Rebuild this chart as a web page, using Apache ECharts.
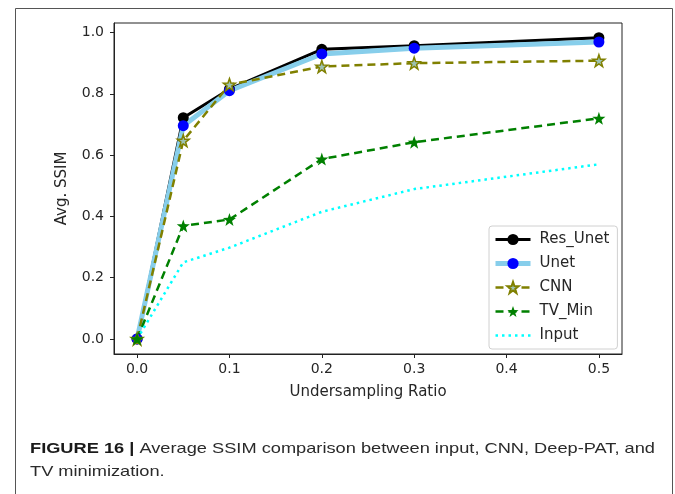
<!DOCTYPE html>
<html>
<head>
<meta charset="utf-8">
<script src="https://cdn.jsdelivr.net/npm/echarts@6/dist/echarts.min.js"></script>
<style>
html, body { margin: 0; padding: 0; background: #fff; }
#main { width: 675px; height: 494px; }
</style>
</head>
<body>
<div id="main"></div>
<script>
// undersampling ratios (x)
var ratios = [0.0, 0.05, 0.1, 0.2, 0.3, 0.5];
// avg SSIM per method
var resUnet = [0.0, 0.722, 0.815, 0.945, 0.957, 0.983];
var unet = [0.0, 0.696, 0.810, 0.930, 0.949, 0.969];
var cnn = [0.0, 0.647, 0.830, 0.889, 0.900, 0.908];
var tvMin = [0.0, 0.369, 0.390, 0.587, 0.642, 0.720];
var input = [0.0, 0.250, 0.298, 0.415, 0.489, 0.570];
// tick labels
var xTicks = [0.0, 0.1, 0.2, 0.3, 0.4, 0.5];
var yTicks = [0.0, 0.2, 0.4, 0.6, 0.8, 1.0];

var font = 'DejaVu Sans';
var capFont = 'Liberation Sans';
var myChart = echarts.init(document.getElementById('main'), null, { renderer: 'canvas' });

function pairs(ys) {
	var out = [];
	for (var i = 0; i < ratios.length; i++) {
		out.push([ratios[i], ys[i]]);
	}
	return out;
}

var starPath = 'path://M0,-10 L2.35,-3.24 L9.51,-3.09 L3.8,1.24 L5.88,8.09 L0,4 L-5.88,8.09 L-3.8,1.24 L-9.51,-3.09 L-2.35,-3.24 Z';

/*caption: printed font is wider than Liberation Sans, so stretch it to the same width*/
var capBold = 'FIGURE 16 |';
var capRest = ' Average SSIM comparison between input, CNN, Deep-PAT, and';
var capLine2 = 'TV minimization.';
function captionGraphics() {
	var ctx = document.createElement('canvas').getContext('2d');
	ctx.font = 'bold 15px "' + capFont + '"';
	var w = ctx.measureText(capBold).width;
	ctx.font = '15px "' + capFont + '"';
	w += ctx.measureText(capRest).width;
	var s = (655 - 30) / w;
	return [{
		type: 'text',
		silent: true,
		x: 30,
		y: 449,
		scaleX: s,
		style: {
			text: '{b|' + capBold + '}{n|' + capRest + '}',
			verticalAlign: 'middle',
			rich: {
				b: { fontFamily: capFont, fontWeight: 'bold', fontSize: 15, fill: '#1a1a1a' },
				n: { fontFamily: capFont, fontSize: 15, fill: '#2a2a2a' }
			}
		}
	}, {
		type: 'text',
		silent: true,
		x: 30,
		y: 472,
		scaleX: s,
		style: { text: capLine2, font: '15px "' + capFont + '"', fill: '#2a2a2a', verticalAlign: 'middle' }
	}];
}

var option = {
	animation: false,
	backgroundColor: '#fff',
	grid: {
		left: 114,
		right: 53,
		top: 23,
		bottom: 140,
		show: true,
		borderColor: '#222',
		borderWidth: 1
	},
	xAxis: {
		type: 'value',
		min: -0.025,
		max: 0.525,
		name: 'Undersampling Ratio',
		nameLocation: 'middle',
		nameGap: 31,
		nameTextStyle: { fontFamily: font, fontSize: 15, color: '#262626' },
		splitLine: { show: false },
		axisLine: { show: true, onZero: false, lineStyle: { color: '#222' } },
		axisTick: { show: true, length: 4, customValues: xTicks, lineStyle: { color: '#222' } },
		axisLabel: {
			customValues: xTicks,
			margin: 8,
			fontFamily: font,
			fontSize: 14,
			color: '#262626',
			formatter: function(v) { return v.toFixed(1); }
		}
	},
	yAxis: {
		type: 'value',
		min: -0.049,
		max: 1.031,
		name: 'Avg. SSIM',
		nameLocation: 'middle',
		nameGap: 44,
		nameTextStyle: { fontFamily: font, fontSize: 15, color: '#262626' },
		splitLine: { show: false },
		axisLine: { show: true, onZero: false, lineStyle: { color: '#222' } },
		axisTick: { show: true, length: 4, customValues: yTicks, lineStyle: { color: '#222' } },
		axisLabel: {
			customValues: yTicks,
			margin: 10,
			fontFamily: font,
			fontSize: 14,
			color: '#262626',
			formatter: function(v) { return v.toFixed(1); }
		}
	},
	legend: {
		orient: 'vertical',
		left: 489,
		top: 226,
		padding: [6, 8, 6, 4],
		itemWidth: 35,
		itemHeight: 14,
		itemGap: 9,
		backgroundColor: '#fff',
		borderColor: '#d0d0d0',
		borderWidth: 1,
		borderRadius: 3,
		lineStyle: { width: 'inherit', type: 'inherit' },
		textStyle: { fontFamily: font, fontSize: 15, color: '#262626', padding: [0, 0, 0, 4] },
		data: ['Res_Unet', 'Unet', 'CNN', 'TV_Min', {
			name: 'Input',
			itemStyle: { color: 'rgba(0,0,0,0)', borderColor: 'rgba(0,0,0,0)', borderWidth: 0 }
		}]
	},
	series: [
		{
			name: 'Res_Unet',
			type: 'line',
			data: pairs(resUnet),
			symbol: 'circle',
			symbolSize: 11,
			itemStyle: { color: '#000' },
			lineStyle: { color: '#000', width: 3 }
		},
		{
			name: 'Unet',
			type: 'line',
			data: pairs(unet),
			symbol: 'circle',
			symbolSize: 11,
			itemStyle: { color: '#0000ff' },
			lineStyle: { color: '#87ceeb', width: 5 }
		},
		{
			name: 'CNN',
			type: 'line',
			data: pairs(cnn),
			symbol: starPath,
			symbolSize: 12,
			itemStyle: { color: '#9cc2b4', borderColor: '#808000', borderWidth: 1.5 },
			lineStyle: { color: '#808000', width: 2.5, type: [8, 5] }
		},
		{
			name: 'TV_Min',
			type: 'line',
			data: pairs(tvMin),
			symbol: starPath,
			symbolSize: 13,
			itemStyle: { color: '#008000' },
			lineStyle: { color: '#008000', width: 2.5, type: [8, 5] }
		},
		{
			name: 'Input',
			type: 'line',
			data: pairs(input),
			symbol: 'none',
			itemStyle: { color: '#00ffff' },
			lineStyle: { color: '#00ffff', width: 2.5, type: [2.5, 4] }
		}
	],
	graphic: [
		{
			type: 'rect',
			left: 13,
			top: 6,
			silent: true,
			shape: { width: 657, height: 500 },
			style: { fill: null, stroke: '#555', lineWidth: 1 }
		}
	].concat(captionGraphics())
};
myChart.setOption(option);
</script>
</body>
</html>
